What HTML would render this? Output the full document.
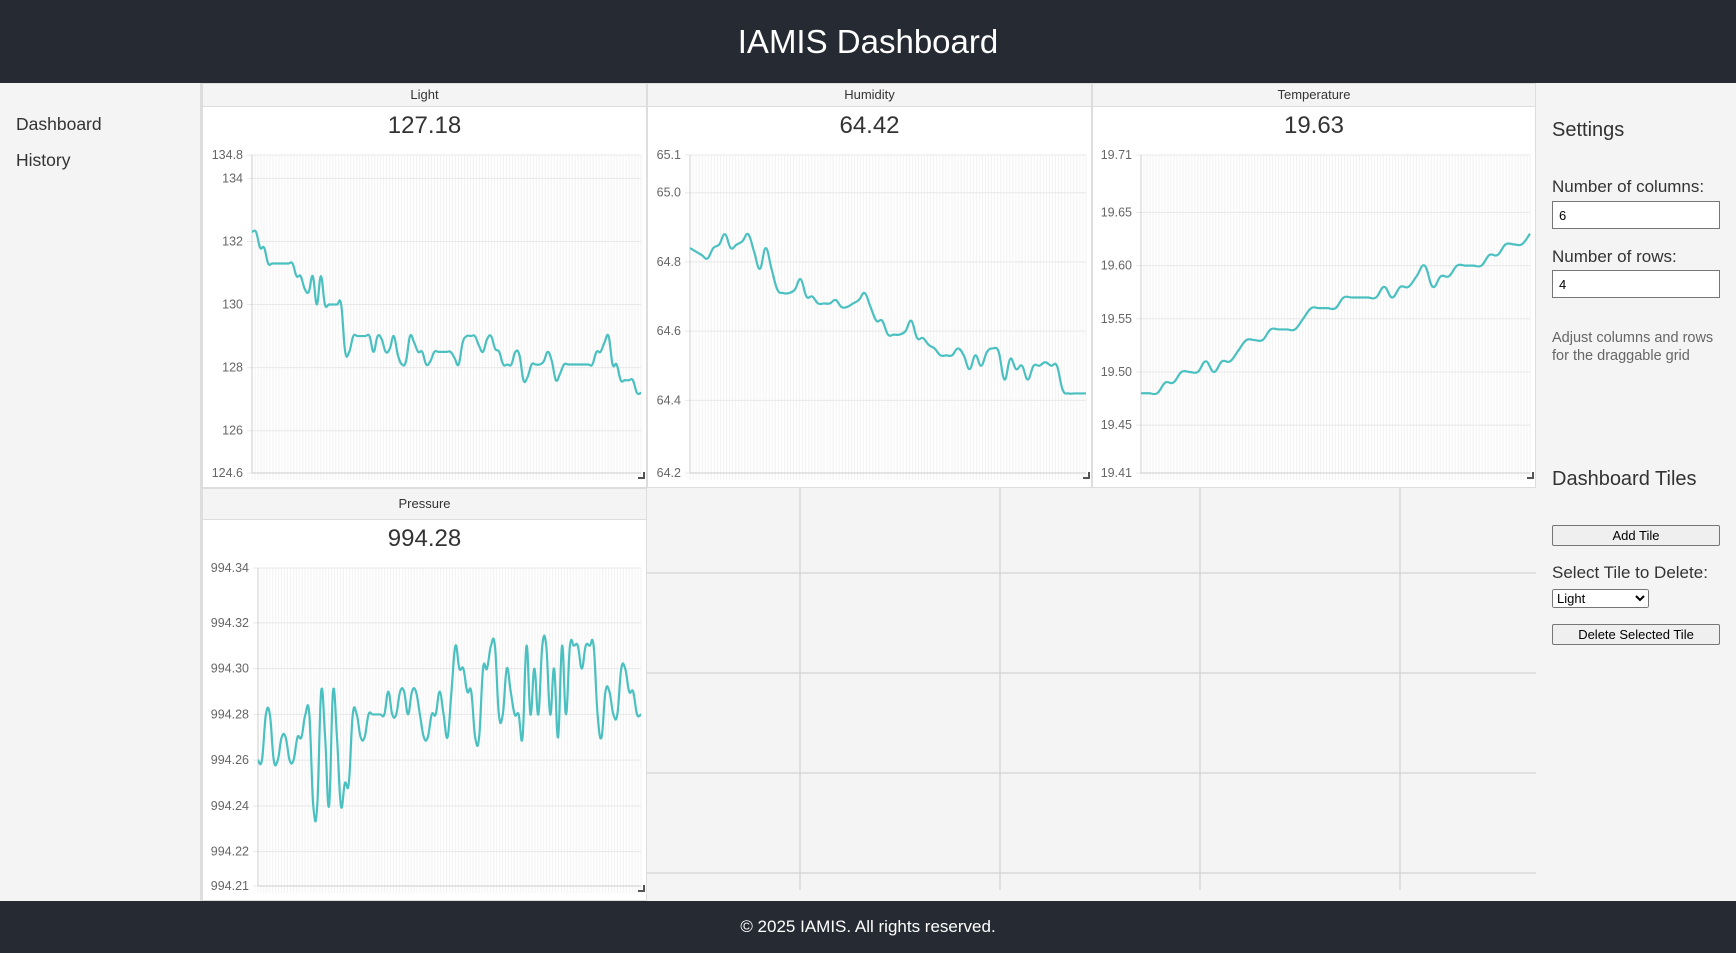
<!DOCTYPE html>
<html><head><meta charset="utf-8">
<style>
*{box-sizing:border-box;margin:0;padding:0}
body{width:1736px;height:953px;background:#f4f4f4;font-family:"Liberation Sans",sans-serif;position:relative;overflow:hidden;color:#333}
.abs{position:absolute}
#hdr{left:0;top:0;width:1736px;height:83px;background:#262a33;color:#fff;font-size:33px;text-align:center;line-height:83px}
#ftr{left:0;top:901px;width:1736px;height:52px;background:#262a33;color:#fff;font-size:17px;text-align:center;line-height:52px}
.nav{left:16px;font-size:17.5px;color:#333}
.tile{background:#fff;border:1px solid #ddd}
.th{position:absolute;left:0;right:0;top:0;background:#f4f4f4;border-bottom:1px solid #ddd;text-align:center;font-size:13px;color:#333}
.tv{position:absolute;left:0;right:0;text-align:center;font-size:24px;color:#333}
.lbl{left:1552px;font-size:17px;color:#333}
input.box{position:absolute;left:1552px;width:168px;height:28px;border:1px solid #767676;font-size:13px;padding-left:6px;font-family:"Liberation Sans",sans-serif;background:#fff}
button.b{position:absolute;left:1552px;width:168px;height:21px;border:1px solid #767676;border-radius:2px;background:#efefef;font-size:13px;font-family:"Liberation Sans",sans-serif}
</style></head><body>
<div id="hdr" class="abs">IAMIS Dashboard</div>
<div class="abs nav" style="top:114px">Dashboard</div>
<div class="abs nav" style="top:150px">History</div>
<div class="abs" style="left:200px;top:83px;width:2px;height:818px;background:#ddd"></div>

<svg class="abs" style="left:0;top:0" width="1736" height="953" id="bggrid"></svg>

<div class="abs tile" style="left:202px;top:83px;width:445px;height:405px"><div class="th" style="height:23px;line-height:22px">Light</div><div class="tv" style="top:28px">127.18</div></div>
<div class="abs tile" style="left:647px;top:83px;width:445px;height:405px"><div class="th" style="height:23px;line-height:22px">Humidity</div><div class="tv" style="top:28px">64.42</div></div>
<div class="abs tile" style="left:1092px;top:83px;width:444px;height:405px"><div class="th" style="height:23px;line-height:22px">Temperature</div><div class="tv" style="top:28px">19.63</div></div>
<div class="abs tile" style="left:202px;top:488px;width:445px;height:413px"><div class="th" style="height:31px;line-height:30px">Pressure</div><div class="tv" style="top:36px">994.28</div></div>

<svg class="abs" style="left:0;top:0" width="1736" height="953" id="charts"></svg>

<div class="abs" style="left:1552px;top:119px;font-size:20px">Settings</div>
<div class="abs lbl" style="top:177px">Number of columns:</div>
<input class="box" style="top:201px" value="6">
<div class="abs lbl" style="top:247px">Number of rows:</div>
<input class="box" style="top:270px" value="4">
<div class="abs" style="left:1552px;top:329px;width:170px;font-size:14.5px;line-height:18px;color:#666">Adjust columns and rows for the draggable grid</div>
<div class="abs" style="left:1552px;top:468px;font-size:20px">Dashboard Tiles</div>
<button class="b" style="top:525px">Add Tile</button>
<div class="abs lbl" style="top:563px">Select Tile to Delete:</div>
<select class="abs" style="left:1552px;top:589px;width:97px;height:19px;font-size:13px;font-family:'Liberation Sans',sans-serif"><option>Light</option></select>
<button class="b" style="top:624px">Delete Selected Tile</button>

<div id="ftr" class="abs">© 2025 IAMIS. All rights reserved.</div>

<script>
const lightValues=[132.3,132.3,131.8,131.8,131.3,131.3,131.3,131.3,131.3,131.3,131.3,130.9,130.9,130.5,130.4,130.9,130.0,130.9,130.0,130.0,130.0,130.0,130.0,128.5,128.5,129.0,129.0,129.0,129.0,129.0,128.5,129.0,128.9,128.5,128.6,129.0,128.4,128.1,128.2,129.0,128.8,128.5,128.5,128.1,128.2,128.5,128.5,128.5,128.5,128.5,128.3,128.1,128.8,129.0,129.0,129.0,128.7,128.5,128.9,129.0,128.6,128.5,128.1,128.1,128.1,128.5,128.4,127.6,127.7,128.1,128.1,128.1,128.2,128.5,128.2,127.6,127.8,128.1,128.1,128.1,128.1,128.1,128.1,128.1,128.1,128.5,128.5,128.8,129.0,128.1,128.1,127.6,127.6,127.6,127.6,127.2,127.2];
const lightRange=[124.66,134.74];
const lightTicks=[134.74,134,132,130,128,126,124.66];
const lightTickLabels=["134.8","134","132","130","128","126","124.6"];
const humidityValues=[64.84,64.83,64.82,64.81,64.84,64.85,64.88,64.84,64.85,64.86,64.88,64.83,64.78,64.84,64.78,64.72,64.71,64.71,64.72,64.75,64.70,64.70,64.68,64.68,64.68,64.69,64.67,64.67,64.68,64.69,64.71,64.67,64.63,64.63,64.59,64.59,64.59,64.60,64.63,64.58,64.58,64.56,64.55,64.53,64.53,64.53,64.55,64.53,64.49,64.53,64.50,64.54,64.55,64.54,64.46,64.52,64.49,64.50,64.46,64.50,64.50,64.51,64.50,64.50,64.43,64.42,64.42,64.42,64.42];
const humidityRange=[64.19,65.109];
const humidityTicks=[65.109,65.0,64.8,64.6,64.4,64.19];
const humidityTickLabels=["65.1","65.0","64.8","64.6","64.4","64.2"];
const temperatureValues=[19.48,19.48,19.48,19.49,19.49,19.50,19.50,19.50,19.51,19.50,19.51,19.51,19.52,19.53,19.53,19.53,19.54,19.54,19.54,19.54,19.55,19.56,19.56,19.56,19.56,19.57,19.57,19.57,19.57,19.57,19.58,19.57,19.58,19.58,19.59,19.60,19.58,19.59,19.59,19.60,19.60,19.60,19.60,19.61,19.61,19.62,19.62,19.62,19.63];
const temperatureRange=[19.405,19.704];
const temperatureTicks=[19.704,19.65,19.60,19.55,19.50,19.45,19.405];
const temperatureTickLabels=["19.71","19.65","19.60","19.55","19.50","19.45","19.41"];
const pressureValues=[994.26,994.26,994.28,994.28,994.26,994.26,994.27,994.27,994.26,994.26,994.27,994.27,994.28,994.28,994.24,994.24,994.29,994.27,994.24,994.29,994.27,994.24,994.25,994.25,994.28,994.28,994.27,994.27,994.28,994.28,994.28,994.28,994.28,994.29,994.28,994.28,994.29,994.29,994.28,994.29,994.29,994.28,994.27,994.27,994.28,994.28,994.29,994.28,994.27,994.29,994.31,994.30,994.30,994.29,994.29,994.27,994.27,994.30,994.30,994.31,994.31,994.28,994.28,994.30,994.29,994.28,994.28,994.27,994.31,994.28,994.30,994.28,994.31,994.31,994.28,994.30,994.27,994.31,994.28,994.31,994.31,994.31,994.30,994.31,994.31,994.31,994.28,994.27,994.29,994.29,994.28,994.28,994.30,994.30,994.29,994.29,994.28,994.28];
const pressureRange=[994.205,994.344];
const pressureTicks=[994.344,994.32,994.30,994.28,994.26,994.24,994.22,994.205];
const pressureTickLabels=["994.34","994.32","994.30","994.28","994.26","994.24","994.22","994.21"];

const NS='http://www.w3.org/2000/svg';
function mk(parent,tag,attrs){const e=document.createElementNS(NS,tag);for(const k in attrs)e.setAttribute(k,attrs[k]);parent.appendChild(e);return e;}

const bg=document.getElementById('bggrid');
[800,1000,1200,1400].forEach(x=>{const l=mk(bg,'line',{x1:x,y1:488,x2:x,y2:890,stroke:'#ccc'});

});
[573,673,773,873].forEach(y=>{const l=mk(bg,'line',{x1:647,y1:y,x2:1536,y2:y,stroke:'#ccc'});

});

const svg=document.getElementById('charts');
function chart(name,vals,range,ticks,labels,box){
  const g=mk(svg,'g',{});
  
  
  const min=range[0],max=range[1];
  const ys=v=>box.b-(v-min)/(max-min)*(box.b-box.t);
  const xs=i=>box.l+i/(vals.length-1)*(box.r-box.l);
  const nMinor=130;
  for(let i=0;i<=nMinor;i++){const x=box.l+i/nMinor*(box.r-box.l);mk(g,'line',{x1:x,y1:box.t,x2:x,y2:box.b+7,stroke:'#f2f2f2','stroke-width':1});}
  ticks.forEach((t,j)=>{const y=ys(t);
    mk(g,'line',{x1:box.l-5,y1:y,x2:box.r,y2:y,stroke:'#e8e8e8'});
    const tx=mk(g,'text',{x:box.l-9,y:y+4,'text-anchor':'end','font-size':'12.5','fill':'#666','font-family':'Liberation Sans, sans-serif'});
    tx.textContent=labels[j];
    
    
  });
  mk(g,'line',{x1:box.l,y1:box.t,x2:box.l,y2:box.b,stroke:'#ccc'});
  mk(g,'line',{x1:box.l,y1:box.b,x2:box.r,y2:box.b,stroke:'#ccc'});
  const p=vals.map((v,i)=>[xs(i),ys(v)]);
  let d='M'+p[0][0]+','+p[0][1];
  for(let i=0;i<p.length-1;i++){const p0=p[Math.max(0,i-1)],p1=p[i],p2=p[i+1],p3=p[Math.min(p.length-1,i+2)];const k=0.2;
    d+=' C'+(p1[0]+(p2[0]-p0[0])*k)+','+(p1[1]+(p2[1]-p0[1])*k)+' '+(p2[0]-(p3[0]-p1[0])*k)+','+(p2[1]-(p3[1]-p1[1])*k)+' '+p2[0]+','+p2[1];}
  const path=mk(g,'path',{d:d,fill:'none',stroke:'#4bc0c0','stroke-width':2.2});
  
  
  const h=mk(g,'path',{d:'M'+(box.r-3)+','+(box.b+5)+' h6 v-6',fill:'none',stroke:'#555','stroke-width':2});
  
  
}
chart('light',lightValues,lightRange,lightTicks,lightTickLabels,{l:252,r:641,t:155,b:473});
chart('humidity',humidityValues,humidityRange,humidityTicks,humidityTickLabels,{l:690,r:1086,t:155,b:473});
chart('temperature',temperatureValues,temperatureRange,temperatureTicks,temperatureTickLabels,{l:1141,r:1530,t:155,b:473});
chart('pressure',pressureValues,pressureRange,pressureTicks,pressureTickLabels,{l:258,r:641,t:568,b:886});
</script>
</body></html>
